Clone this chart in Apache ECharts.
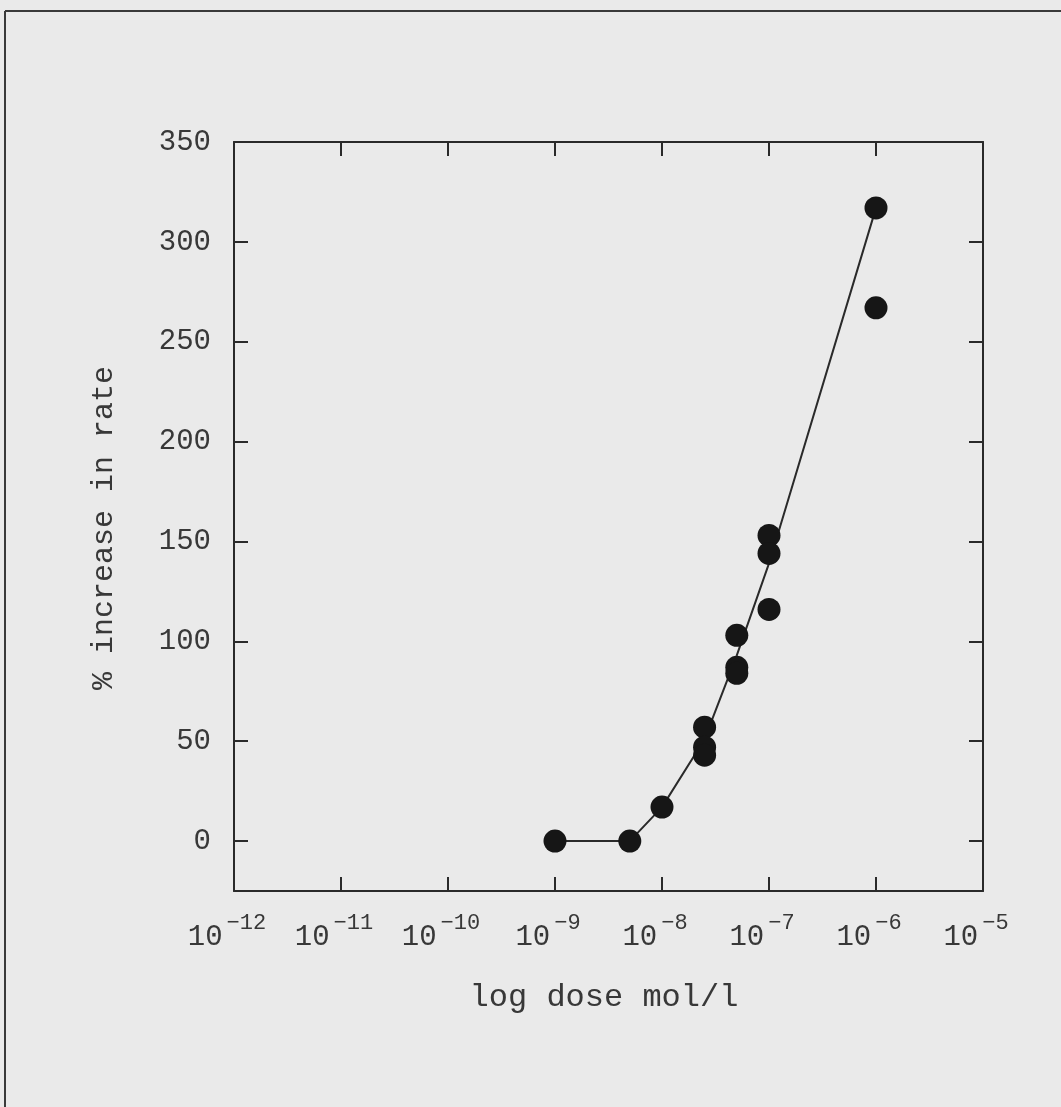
<!DOCTYPE html>
<html>
<head>
<meta charset="utf-8">
<script src="https://cdn.jsdelivr.net/npm/echarts@6/dist/echarts.min.js"></script>
<style>
html,body{margin:0;padding:0;background:#eaeaea;}
#chart{width:1061px;height:1107px;}
</style>
</head>
<body>
<div id="chart"></div>
<script>
// ---- data ----
const xTickExponents = [-12, -11, -10, -9, -8, -7, -6, -5];
const yTickValues = [0, 50, 100, 150, 200, 250, 300, 350];
const yTickMarks = [0, 50, 100, 150, 200, 250, 300];

const doseX = [1e-9, 5e-9, 1e-8, 2.5e-8, 2.5e-8, 2.5e-8, 5e-8, 5e-8, 5e-8, 1e-7, 1e-7, 1e-7, 1e-6, 1e-6];
const rateY = [0, 0, 17, 57, 47, 43, 103, 87, 84, 153, 144, 116, 317, 267];

const lineDose = [1e-9, 5e-9, 1e-8, 2.5e-8, 5e-8, 1e-7, 1e-6];
const lineRate = [0, 0, 17, 51, 93, 139, 317];

const xTitle = 'log dose mol/l';
const yTitle = '% increase in rate';

// ---- chart ----
const FONT = '"Liberation Mono", "DejaVu Sans Mono", monospace';
const INK = '#2a2a2a';
const TXT = '#383838';

const chart = echarts.init(document.getElementById('chart'), null, {renderer: 'canvas'});

const xMin = Math.pow(10, xTickExponents[0]);
const xMax = Math.pow(10, xTickExponents[xTickExponents.length - 1]);

function expLabel(v) {
  const e = Math.round(Math.log10(v));
  return '{b|10}{s|' + (e < 0 ? '\u2212' + Math.abs(e) : String(e)) + '}';
}

const option = {
  backgroundColor: '#eaeaea',
  animation: false,
  grid: {left: 234, top: 142, right: 78, bottom: 216, containLabel: false},
  xAxis: [
    {
      type: 'log', logBase: 10, min: xMin, max: xMax, interval: 1, position: 'bottom',
      axisLine: {show: true, onZero: false, lineStyle: {color: INK, width: 2}},
      axisTick: {show: true, inside: true, length: 14, lineStyle: {color: INK, width: 2}},
      splitLine: {show: false}, minorTick: {show: false},
      axisLabel: {
        show: true, margin: 21, showMinLabel: true, showMaxLabel: true,
        formatter: expLabel, padding: [0, 14, 0, 0],
        rich: {
          b: {fontFamily: FONT, fontSize: 29, lineHeight: 40, color: TXT, verticalAlign: 'bottom'},
          s: {fontFamily: FONT, fontSize: 22, lineHeight: 22, color: TXT, verticalAlign: 'top', padding: [0, 0, 0, 4]}
        }
      }
    },
    {
      type: 'log', logBase: 10, min: xMin, max: xMax, interval: 1, position: 'top',
      axisLine: {show: true, onZero: false, lineStyle: {color: INK, width: 2}},
      axisTick: {show: true, inside: true, length: 14, lineStyle: {color: INK, width: 2}},
      axisLabel: {show: false}, splitLine: {show: false}
    }
  ],
  yAxis: [
    {
      type: 'value', min: -25, max: 350, position: 'left',
      axisLine: {show: true, onZero: false, lineStyle: {color: INK, width: 2}},
      axisTick: {show: true, inside: true, length: 14, customValues: yTickMarks, lineStyle: {color: INK, width: 2}},
      axisLabel: {show: true, margin: 23, customValues: yTickValues, fontFamily: FONT, fontSize: 29, color: TXT},
      splitLine: {show: false}
    },
    {
      type: 'value', min: -25, max: 350, position: 'right',
      axisLine: {show: true, onZero: false, lineStyle: {color: INK, width: 2}},
      axisTick: {show: true, inside: true, length: 14, customValues: yTickMarks, lineStyle: {color: INK, width: 2}},
      axisLabel: {show: false}, splitLine: {show: false}
    }
  ],
  graphic: [
    {type: 'line', shape: {x1: 5, y1: 11, x2: 1061, y2: 11}, style: {stroke: '#3a3a3a', lineWidth: 2}},
    {type: 'line', shape: {x1: 5, y1: 11, x2: 5, y2: 1107}, style: {stroke: '#3a3a3a', lineWidth: 2}},
    {type: 'text', x: 104, y: 528, rotation: Math.PI / 2,
     style: {text: yTitle, fontFamily: FONT, fontSize: 30, fill: TXT, textAlign: 'center', textVerticalAlign: 'middle'}},
    {type: 'text', x: 604, y: 998,
     style: {text: xTitle, fontFamily: FONT, fontSize: 32, fill: TXT, textAlign: 'center', textVerticalAlign: 'middle'}}
  ],
  series: [
    {
      type: 'line', xAxisIndex: 0, yAxisIndex: 0,
      data: lineDose.map((d, i) => [d, lineRate[i]]),
      showSymbol: false, symbol: 'none', z: 2,
      lineStyle: {color: INK, width: 2}
    },
    {
      type: 'scatter', xAxisIndex: 0, yAxisIndex: 0,
      data: doseX.map((d, i) => [d, rateY[i]]),
      symbol: 'circle', symbolSize: 23, z: 3,
      itemStyle: {color: '#161616', opacity: 1}
    }
  ]
};
chart.setOption(option);
</script>
</body>
</html>
